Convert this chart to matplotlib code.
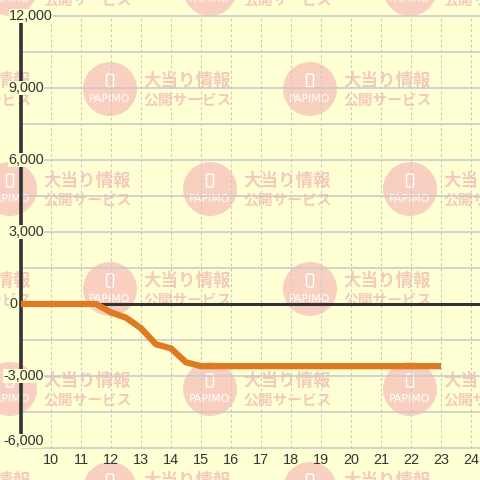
import matplotlib.pyplot as plt
from matplotlib.patches import Circle, FancyBboxPatch
from matplotlib.transforms import blended_transform_factory

# balance over the day (hour -> balls)
hours = [9, 10, 11, 11.5, 12, 12.5, 13, 13.5, 14, 14.5, 15, 16, 17, 18, 19, 20, 21, 22, 23]
balls = [0, 0, 0, 0, -350, -570, -1010, -1680, -1850, -2430, -2590,
         -2590, -2590, -2590, -2590, -2590, -2590, -2590, -2590]

x_ticks = list(range(10, 25))
y_ticks = [12000, 9000, 6000, 3000, 0, -3000, -6000]
y_labels = ['12,000', '9,000', '6,000', '3,000', '0', '-3,000', '-6,000']
y_grid = list(range(-6000, 12001, 1500))

BG = '#ffffd4'
DARK = '#333333'

fig = plt.figure(figsize=(4.8, 4.8), dpi=100)
fig.patch.set_facecolor(BG)

# watermark layer, in pixel coords
wm = fig.add_axes([0, 0, 1, 1])
wm.set_xlim(0, 480)
wm.set_ylim(480, 0)
wm.axis('off')
for row in range(6):
    cy = -11 + 100 * row
    start = 10 if row % 2 == 0 else -90
    for cx in range(start, 600, 200):
        wm.add_patch(Circle((cx, cy), 27, color='#f9d0c0', lw=0))
        wm.add_patch(FancyBboxPatch((cx - 3.5, cy - 15), 7, 13,
                                    boxstyle='round,pad=0,rounding_size=1.5',
                                    fill=False, ec='white', lw=1.0))
        wm.text(cx, cy + 10, 'PAPIMO', color='white', fontsize=7.8,
                ha='center', va='center', family='DejaVu Sans')
        wm.text(cx + 33, cy - 8, '大当り情報', color='#f4cabb', fontsize=12.6,
                fontweight='bold', ha='left', va='center', family='Noto Sans CJK JP')
        wm.text(cx + 33, cy + 11, '公開サービス', color='#f4cabb', fontsize=10.6,
                fontweight='bold', ha='left', va='center', family='Noto Sans CJK JP')

# chart layer
ax = fig.add_axes([0, 0, 1, 1])
ax.set_facecolor('none')
ax.axis('off')
ax.set_xlim(8.3, 24.3)
ax.set_ylim(-7333.3, 12666.7)

ax.hlines(y_grid, 9, 24.3, colors='#c8c8cc', lw=1.1, zorder=1)
ax.vlines(x_ticks, -6000, 12000, colors='#c6c6c6', lw=0.75,
          linestyles=(0, (2.5, 2.5)), zorder=1)
ax.plot([9, 9], [-6000, 12000], color=DARK, lw=2.6, solid_capstyle='butt', zorder=2)
ax.hlines(0, 9, 24.3, colors=DARK, lw=2.2, zorder=2)

ax.plot(hours, balls, color='#de7a22', lw=4.5, solid_capstyle='butt', zorder=3)

# y labels
trans = blended_transform_factory(fig.transFigure, ax.transData)
for v, lab in zip(y_ticks, y_labels):
    right = 44
    if v == 12000:
        right = 53
    if v == 0:
        right = 17
    dy = 7 if v == -6000 else 0
    ax.annotate(lab, (right / 480, v), xycoords=trans, xytext=(0, dy),
                textcoords='offset pixels', ha='right', va='center',
                fontsize=10.4, color=DARK, family='Liberation Sans', zorder=5,
                bbox=dict(facecolor=BG, edgecolor='none', pad=0.3))

for x in x_ticks:
    ax.text(x, -6500, str(x), ha='center', va='center', fontsize=10.4,
            color=DARK, family='Liberation Sans', zorder=5)

plt.savefig('out.png', dpi=100, facecolor=BG)
